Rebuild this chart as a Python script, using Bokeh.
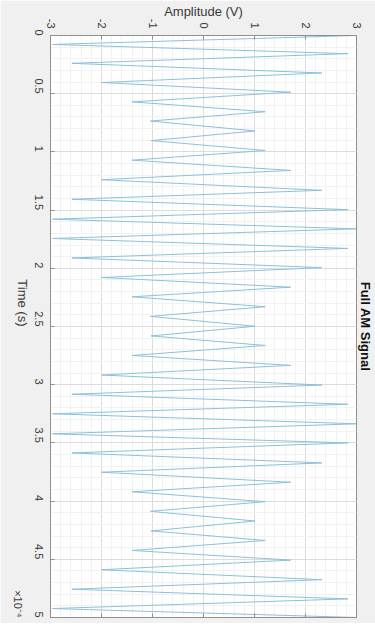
import numpy as np
from bokeh.plotting import figure
from bokeh.models import Range1d, FixedTicker, LinearAxis, Title
from bokeh.embed import file_html
from bokeh.resources import INLINE

# Extrema of the AM signal (time in units of 1e-4 s, amplitude in V)
times = [0, 0.077, 0.156, 0.239, 0.322, 0.404, 0.487, 0.570, 0.655, 0.735,
         0.820, 0.903, 0.988, 1.071, 1.159, 1.239, 1.330, 1.407, 1.496, 1.578,
         1.661, 1.744, 1.829, 1.911, 1.994, 2.079, 2.162, 2.245, 2.330, 2.413,
         2.498, 2.581, 2.663, 2.749, 2.834, 2.917, 3.003, 3.082, 3.168, 3.250,
         3.336, 3.422, 3.500, 3.586, 3.672, 3.752, 3.838, 3.920, 4.005, 4.088,
         4.171, 4.256, 4.338, 4.424, 4.507, 4.590, 4.675, 4.757, 4.840, 4.923,
         5.0]
amplitude = [3.0, -2.96, 2.83, -2.58, 2.32, -2.0, 1.71, -1.40, 1.21, -1.04,
             1.01, -1.03, 1.21, -1.40, 1.71, -2.0, 2.32, -2.58, 2.83, -2.96,
             3.0, -2.96, 2.83, -2.58, 2.32, -2.0, 1.71, -1.40, 1.21, -1.04,
             1.01, -1.03, 1.21, -1.40, 1.71, -2.0, 2.32, -2.58, 2.83, -2.96,
             3.0, -2.96, 2.83, -2.58, 2.32, -2.0, 1.71, -1.40, 1.21, -1.04,
             1.01, -1.03, 1.21, -1.40, 1.71, -2.0, 2.32, -2.58, 2.83, -2.96,
             3.0]

time_ticks = [0, 0.5, 1, 1.5, 2, 2.5, 3, 3.5, 4, 4.5, 5]
time_tick_labels = ["0", "0.5", "1", "1.5", "2", "2.5", "3", "3.5", "4", "4.5", "5"]
amp_ticks = [-3, -2, -1, 0, 1, 2, 3]
amp_tick_labels = ["-3", "-2", "-1", "0", "1", "2", "3"]

FONT = "Liberation Sans"
AXIS_COLOR = "#8f8f8f"
TEXT_COLOR = "#3a3a3a"

p = figure(width=375, height=623, output_backend="svg", toolbar_location=None,
           x_range=Range1d(-3, 3), y_range=Range1d(5, 0),
           x_axis_location=None, y_axis_location=None,
           min_border_left=50, min_border_right=16, min_border_top=32,
           min_border_bottom=6)
p.border_fill_color = "#f0f0f0"
p.background_fill_color = "white"
p.outline_line_color = AXIS_COLOR

amp_minor = list(np.round(np.arange(-3, 3.001, 0.2), 3))
time_minor = list(np.round(np.arange(0, 5.001, 0.1), 3))

amp_ticker = FixedTicker(ticks=amp_ticks, minor_ticks=amp_minor)
time_ticker = FixedTicker(ticks=time_ticks, minor_ticks=time_minor)

def style_axis(ax, show_labels):
    ax.axis_line_color = AXIS_COLOR
    ax.major_tick_line_color = AXIS_COLOR
    ax.major_tick_in = 4
    ax.major_tick_out = 0
    ax.minor_tick_line_color = None
    ax.major_label_text_font = FONT
    ax.major_label_text_color = TEXT_COLOR
    ax.major_label_text_line_height = 1.0
    ax.axis_label_text_font = FONT
    ax.axis_label_text_color = TEXT_COLOR
    ax.axis_label_text_font_style = "normal"
    ax.axis_label_text_line_height = 1.0
    if show_labels:
        ax.major_label_text_font_size = "11px"
    else:
        ax.major_label_text_font_size = "0px"
        ax.major_label_standoff = 0
        ax.axis_label_standoff = 0

top = LinearAxis(ticker=amp_ticker, axis_label="Amplitude (V)",
                 major_label_overrides={t: l for t, l in zip(amp_ticks, amp_tick_labels)})
style_axis(top, True)
top.major_label_orientation = -np.pi / 2
top.major_label_standoff = 3
top.axis_label_standoff = -3
top.axis_label_text_font_size = "13px"
p.add_layout(top, "above")

left = LinearAxis(ticker=time_ticker, axis_label="Time (s)",
                  major_label_overrides={t: l for t, l in zip(time_ticks, time_tick_labels)})
style_axis(left, True)
left.major_label_orientation = -np.pi / 2
left.major_label_standoff = 8
left.axis_label_standoff = 5
left.axis_label_text_font_size = "13px"
left.axis_label_orientation = -np.pi / 2
p.add_layout(left, "left")

# exponent label of the time axis, as a tickless axis label
expo = LinearAxis(ticker=FixedTicker(ticks=[]), axis_label="×10⁻⁴")
style_axis(expo, False)
expo.axis_line_color = None
expo.major_tick_line_color = None
expo.axis_label_text_font_size = "11px"
expo.axis_label_orientation = -np.pi / 2
expo.axis_label_align = "end"
expo.axis_label_standoff = -13
p.add_layout(expo, "left")

bottom = LinearAxis(ticker=amp_ticker, major_label_overrides={t: "" for t in amp_ticks})
style_axis(bottom, False)
p.add_layout(bottom, "below")

p.add_layout(Title(text="Full AM Signal", align="center", text_font=FONT,
                   text_font_size="13px", text_font_style="bold",
                   text_line_height=1.0, text_color="#111111", standoff=2), "right")

p.xgrid.ticker = amp_ticker
p.ygrid.ticker = time_ticker
for g in (p.xgrid, p.ygrid):
    g.grid_line_color = "#dcdcdc"
    g.minor_grid_line_color = "#f2f2f2"

p.line(amplitude, times, line_color="#8cc0dc", line_width=1)

open("out.html", "w").write(file_html(p, INLINE))
